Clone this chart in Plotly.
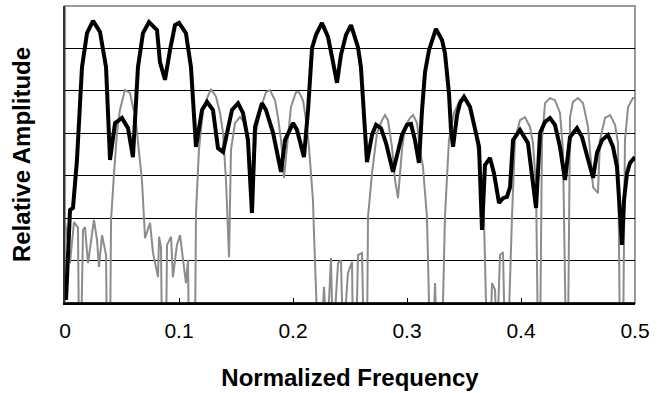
import plotly.graph_objects as go

# Black (thick) spectrum
black_x = [0.0009, 0.0044, 0.0070, 0.0105, 0.0149, 0.0193, 0.0246, 0.0307, 0.0360, 0.0395,
           0.0439, 0.0500, 0.0553, 0.0596, 0.0640, 0.0684, 0.0737, 0.0807, 0.0833, 0.0877,
           0.0921, 0.0965, 0.1000, 0.1061, 0.1105, 0.1149, 0.1202, 0.1246, 0.1298, 0.1342,
           0.1386, 0.1421, 0.1465, 0.1518, 0.1561, 0.1605, 0.1640, 0.1667, 0.1728, 0.1763,
           0.1825, 0.1895, 0.1930, 0.2000, 0.2035, 0.2096, 0.2132, 0.2167, 0.2202, 0.2254,
           0.2307, 0.2342, 0.2386, 0.2421, 0.2465, 0.2509, 0.2570, 0.2596, 0.2632, 0.2649,
           0.2693, 0.2728, 0.2772, 0.2816, 0.2877, 0.2912, 0.2956, 0.3000, 0.3035, 0.3070,
           0.3105, 0.3132, 0.3158, 0.3193, 0.3254, 0.3307, 0.3333, 0.3368, 0.3386, 0.3404,
           0.3439, 0.3465, 0.3500, 0.3553, 0.3596, 0.3632, 0.3658, 0.3684, 0.3728, 0.3763,
           0.3807, 0.3842, 0.3877, 0.3904, 0.3930, 0.3991, 0.4061, 0.4105, 0.4132, 0.4167,
           0.4211, 0.4254, 0.4298, 0.4342, 0.4386, 0.4430, 0.4491, 0.4535, 0.4579, 0.4632,
           0.4667, 0.4711, 0.4763, 0.4807, 0.4842, 0.4868, 0.4886, 0.4904, 0.4930, 0.4956,
           0.5000]
black_db = [-69.3, -48.1, -47.6, -36.3, -14.4, -6.4, -3.5, -6.1, -14.4, -36.3,
            -27.6, -26.4, -28.8, -35.6, -14.4, -6.4, -3.8, -5.7, -13.2, -17.4,
            -10.4, -4.5, -4.0, -6.4, -14.4, -33.2, -24.5, -22.6, -24.5, -33.5,
            -34.4, -29.9, -24.5, -22.9, -25.2, -31.6, -48.8, -28.5, -22.9, -24.5,
            -29.9, -39.1, -31.6, -27.6, -29.2, -35.6, -24.5, -9.9, -6.8, -4.0,
            -7.3, -12.0, -18.1, -11.5, -6.8, -4.5, -9.7, -14.4, -29.2, -36.8,
            -30.4, -28.0, -28.8, -32.3, -39.1, -35.6, -30.4, -28.0, -27.8, -31.6,
            -37.0, -24.5, -15.6, -10.4, -5.4, -8.0, -11.1, -20.5, -29.2, -33.2,
            -25.7, -22.9, -21.4, -23.8, -28.5, -33.2, -52.8, -37.5, -35.8, -39.4,
            -46.4, -45.3, -45.0, -42.7, -31.6, -29.2, -32.3, -41.7, -47.6, -29.9,
            -27.3, -26.4, -28.0, -33.2, -41.0, -30.9, -28.8, -30.9, -35.6, -40.5,
            -34.6, -31.6, -30.4, -33.2, -37.9, -47.4, -56.3, -45.7, -39.4, -37.0,
            -35.6]

# Gray (thin) spectrum; values below the axis floor are nulls
gray_x = [0.0000, 0.0018, 0.0044, 0.0079, 0.0114, 0.0123, 0.0140, 0.0158, 0.0175, 0.0202,
          0.0254, 0.0281, 0.0298, 0.0325, 0.0360, 0.0368, 0.0395, 0.0404, 0.0430, 0.0456,
          0.0482, 0.0526, 0.0570, 0.0596, 0.0614, 0.0640, 0.0675, 0.0702, 0.0746, 0.0772,
          0.0816, 0.0825, 0.0842, 0.0851, 0.0886, 0.0895, 0.0930, 0.0947, 0.0982, 0.1009,
          0.1061, 0.1079, 0.1088, 0.1140, 0.1149, 0.1175, 0.1211, 0.1246, 0.1281, 0.1325,
          0.1360, 0.1386, 0.1412, 0.1439, 0.1456, 0.1491, 0.1535, 0.1579, 0.1605, 0.1649,
          0.1675, 0.1719, 0.1763, 0.1798, 0.1842, 0.1868, 0.1895, 0.1921, 0.1956, 0.1982,
          0.2026, 0.2053, 0.2088, 0.2114, 0.2140, 0.2175, 0.2184, 0.2219, 0.2246, 0.2272,
          0.2298, 0.2333, 0.2351, 0.2395, 0.2421, 0.2439, 0.2482, 0.2518, 0.2526, 0.2553,
          0.2570, 0.2605, 0.2623, 0.2649, 0.2658, 0.2693, 0.2737, 0.2781, 0.2807, 0.2833,
          0.2868, 0.2895, 0.2921, 0.2956, 0.2982, 0.3026, 0.3053, 0.3088, 0.3114, 0.3140,
          0.3175, 0.3202, 0.3228, 0.3246, 0.3263, 0.3307, 0.3333, 0.3368, 0.3412, 0.3465,
          0.3500, 0.3553, 0.3596, 0.3640, 0.3675, 0.3702, 0.3728, 0.3746, 0.3772, 0.3789,
          0.3816, 0.3842, 0.3860, 0.3886, 0.3921, 0.3947, 0.3991, 0.4035, 0.4079, 0.4105,
          0.4132, 0.4149, 0.4167, 0.4184, 0.4211, 0.4254, 0.4298, 0.4342, 0.4368, 0.4395,
          0.4412, 0.4430, 0.4456, 0.4500, 0.4544, 0.4588, 0.4632, 0.4675, 0.4693, 0.4737,
          0.4781, 0.4825, 0.4851, 0.4868, 0.4895, 0.4912, 0.4939, 0.4982, 0.5000]
gray_db = [-50.9, -54.0, -60.6, -50.9, -52.3, -80.0, -80.0, -52.8, -52.1, -60.6,
           -50.4, -55.2, -61.5, -54.0, -58.7, -80.0, -80.0, -50.4, -39.4, -29.9,
           -24.5, -19.8, -20.5, -23.8, -25.2, -32.3, -41.0, -54.7, -51.1, -58.2,
           -63.9, -54.4, -56.8, -80.0, -80.0, -56.3, -54.4, -63.9, -56.3, -54.0,
           -65.3, -59.9, -80.0, -80.0, -48.8, -33.9, -24.5, -21.7, -19.6, -21.4,
           -25.2, -29.9, -41.0, -59.2, -33.9, -27.6, -26.2, -27.6, -31.6, -43.8,
           -29.9, -23.8, -20.3, -19.8, -22.2, -26.2, -31.6, -40.5, -29.9, -23.8,
           -20.3, -20.3, -22.2, -26.9, -33.2, -45.7, -53.5, -80.0, -80.0, -66.2,
           -80.0, -59.4, -80.0, -60.6, -59.9, -80.0, -62.9, -60.3, -80.0, -80.0,
           -58.7, -58.2, -80.0, -80.0, -49.7, -39.4, -29.9, -26.9, -25.7, -26.9,
           -33.2, -41.0, -45.3, -33.9, -28.5, -26.4, -25.7, -27.6, -33.9, -37.9,
           -49.7, -80.0, -80.0, -65.3, -80.0, -80.0, -49.7, -31.6, -25.2, -22.2,
           -21.4, -23.8, -28.5, -37.9, -49.7, -80.0, -80.0, -65.3, -66.9, -80.0,
           -58.7, -58.0, -80.0, -80.0, -49.7, -31.6, -26.9, -26.2, -28.5, -32.3,
           -42.7, -80.0, -80.0, -31.6, -22.9, -21.7, -22.2, -25.2, -33.9, -80.0,
           -80.0, -26.2, -22.6, -21.7, -22.9, -28.5, -42.7, -44.1, -31.6, -26.4,
           -25.7, -28.0, -32.3, -80.0, -80.0, -31.6, -23.8, -21.7, -21.7]

x_ticks = [0, 0.1, 0.2, 0.3, 0.4, 0.5]
x_tick_labels = ["0", "0.1", "0.2", "0.3", "0.4", "0.5"]

fig = go.Figure()
fig.add_trace(go.Scatter(x=gray_x, y=gray_db, mode="lines",
                         line=dict(color="#8c8c8c", width=2), showlegend=False,
                         hoverinfo="skip"))
fig.add_trace(go.Scatter(x=black_x, y=black_db, mode="lines",
                         line=dict(color="#000000", width=4), showlegend=False,
                         hoverinfo="skip"))

font_family = "Liberation Sans, Arial, sans-serif"
fig.update_layout(
    width=662, height=393,
    margin=dict(l=65, r=27, t=6, b=90, autoexpand=False),
    paper_bgcolor="white", plot_bgcolor="white",
    font=dict(family=font_family, size=21, color="black"),
    showlegend=False,
    xaxis=dict(
        range=[0, 0.5], tickvals=x_ticks, ticktext=x_tick_labels,
        ticks="inside", ticklen=5, tickcolor="black",
        showline=True, linecolor="black", linewidth=1.5,
        showgrid=False, zeroline=False, automargin=False,
        tickfont=dict(size=21), ticklabelstandoff=8,
        title=dict(text="<b>Normalized Frequency</b>", font=dict(size=24), standoff=28),
    ),
    yaxis=dict(
        range=[-70, 0], dtick=10, showticklabels=False, ticks="",
        showline=True, linecolor="#333333", linewidth=1.5,
        showgrid=True, gridcolor="black", gridwidth=1, zeroline=False, automargin=False,
        title=dict(text="<b>Relative Amplitude</b>", font=dict(size=24), standoff=26),
    ),
)
fig.add_shape(type="rect", xref="paper", yref="paper", x0=0, y0=0, x1=1, y1=1,
              line=dict(color="#999999", width=2), layer="below")
fig.add_shape(type="line", xref="paper", yref="paper", x0=0, y0=0, x1=1, y1=0,
              line=dict(color="black", width=1.5), layer="above")

fig.write_html("out.html", config={"displayModeBar": False},
               post_script="document.body.style.margin='0';document.body.style.overflow='hidden';")
